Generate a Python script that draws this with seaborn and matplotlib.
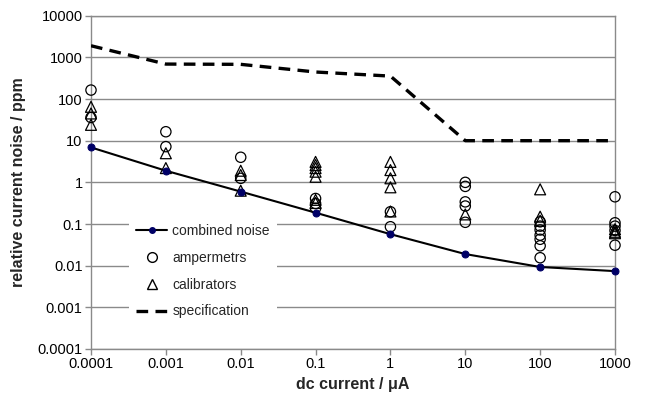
import matplotlib
matplotlib.use("Agg")
import matplotlib.pyplot as plt
from matplotlib.lines import Line2D
from matplotlib.ticker import FixedLocator, FixedFormatter, NullLocator
import seaborn as sns
import pandas as pd

# ---- data ----
currents = [0.0001, 0.001, 0.01, 0.1, 1, 10, 100, 1000]
current_labels = ["0.0001", "0.001", "0.01", "0.1", "1", "10", "100", "1000"]
combined_noise = [6.9, 1.9, 0.6, 0.187, 0.057, 0.019, 0.0093, 0.0074]
specification = [1900, 690, 680, 445, 355, 10, 10, 10]

amp_x = [0.0001, 0.0001,
         0.001, 0.001,
         0.01, 0.01,
         0.1, 0.1, 0.1,
         1, 1,
         10, 10, 10, 10, 10,
         100, 100, 100, 100, 100, 100, 100,
         1000, 1000, 1000, 1000, 1000]
amp_y = [164, 36,
         16.4, 7.2,
         4.0, 1.25,
         0.41, 0.31, 0.24,
         0.197, 0.086,
         1.0, 0.8, 0.34, 0.27, 0.11,
         0.113, 0.089, 0.072, 0.054, 0.043, 0.030, 0.0155,
         0.45, 0.107, 0.089, 0.07, 0.031]

cal_x = [0.0001, 0.0001, 0.0001,
         0.001, 0.001,
         0.01, 0.01, 0.01,
         0.1, 0.1, 0.1, 0.1, 0.1, 0.1, 0.1,
         1, 1, 1, 1, 1,
         10,
         100, 100, 100,
         1000, 1000, 1000]
cal_y = [65, 45, 24,
         5.0, 2.2,
         1.9, 1.5, 0.63,
         3.1, 2.6, 2.2, 1.8, 1.36, 0.38, 0.32,
         3.1, 1.97, 1.25, 0.76, 0.2,
         0.17,
         0.68, 0.15, 0.12,
         0.075, 0.065, 0.06]

y_ticks = [0.0001, 0.001, 0.01, 0.1, 1, 10, 100, 1000, 10000]
y_labels = ["0.0001", "0.001", "0.01", "0.1", "1", "10", "100", "1000", "10000"]

# ---- style ----
sns.set_theme(style="white")
plt.rcParams["font.family"] = ["Liberation Sans", "DejaVu Sans"]

fig = plt.figure(figsize=(6.46, 4.03), dpi=100)
ax = fig.add_axes([91 / 646, 1 - 349 / 403, 524 / 646, 333.3 / 403])

df_line = pd.DataFrame({"x": currents, "combined": combined_noise, "spec": specification})
df_amp = pd.DataFrame({"x": amp_x, "y": amp_y})
df_cal = pd.DataFrame({"x": cal_x, "y": cal_y})

ax.set_xscale("log")
ax.set_yscale("log")

sns.lineplot(data=df_line, x="x", y="spec", ax=ax, color="black", linewidth=2.4,
             dashes=False, linestyle=(0, (3.5, 2.2)), zorder=3)
sns.scatterplot(data=df_amp, x="x", y="y", ax=ax, marker="o", s=55,
                facecolor="none", edgecolor="black", linewidth=0.9, zorder=4, clip_on=False)
sns.scatterplot(data=df_cal, x="x", y="y", ax=ax, marker="^", s=62,
                facecolor="none", edgecolor="black", linewidth=0.9, zorder=4, clip_on=False)
sns.lineplot(data=df_line, x="x", y="combined", ax=ax, color="black", linewidth=1.5,
             marker="o", markersize=5, markerfacecolor="#000066", markeredgecolor="#000066",
             zorder=5, clip_on=False)

ax.set_xlim(0.0001, 1000)
ax.set_ylim(0.0001, 10000)

ax.xaxis.set_major_locator(FixedLocator(currents))
ax.xaxis.set_major_formatter(FixedFormatter(current_labels))
ax.xaxis.set_minor_locator(NullLocator())
ax.yaxis.set_major_locator(FixedLocator(y_ticks))
ax.yaxis.set_major_formatter(FixedFormatter(y_labels))
ax.yaxis.set_minor_locator(NullLocator())

ax.grid(axis="y", color="#8a8a8a", linewidth=1.0)
ax.grid(axis="x", visible=False)
ax.set_axisbelow(True)
for sp in ax.spines.values():
    sp.set_color("#8a8a8a")
    sp.set_linewidth(1.0)
ax.tick_params(axis="both", which="major", direction="out", length=4, width=1,
               color="#8a8a8a", labelsize=10.5, labelcolor="black", pad=2,
               bottom=True, left=True)

ax.set_xlabel("dc current / μA", fontsize=11.5, fontweight="bold", labelpad=4)
ax.set_ylabel("relative current noise / ppm", fontsize=11.5, fontweight="bold", labelpad=8)

handles = [
    Line2D([], [], color="black", linewidth=1.5, marker="o", markersize=4,
           markerfacecolor="#000066", markeredgecolor="#000066"),
    Line2D([], [], linestyle="none", marker="o", markersize=7,
           markerfacecolor="none", markeredgecolor="black"),
    Line2D([], [], linestyle="none", marker="^", markersize=7,
           markerfacecolor="none", markeredgecolor="black"),
    Line2D([], [], color="black", linewidth=2.4, linestyle=(0, (3.5, 2.2))),
]
leg = ax.legend(handles, ["combined noise", "ampermetrs", "calibrators", "specification"],
                loc="lower left", bbox_to_anchor=(0.06, 0.05), frameon=True,
                fontsize=10, handlelength=2.2, handletextpad=0.4, labelspacing=0.93,
                borderpad=0.5, fancybox=False)
leg.get_frame().set_facecolor("white")
leg.get_frame().set_edgecolor("none")
leg.get_frame().set_alpha(1.0)
leg.set_zorder(10)

fig.savefig("out.png", dpi=100)
